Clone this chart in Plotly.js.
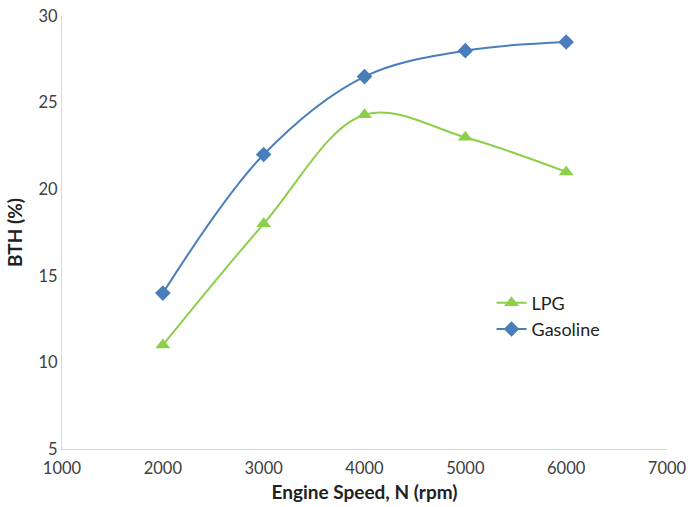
<!DOCTYPE html>
<html>
<head>
<meta charset="utf-8">
<script src="https://cdn.plot.ly/plotly-3.0.1.min.js"></script>
<style>html,body{margin:0;padding:0;background:#fff}#chart{width:688px;height:507px}</style>
</head>
<body>
<div id="chart"></div>
<script>
const speeds = [2000, 3000, 4000, 5000, 6000];
const lpg = [11, 18, 24.3, 23, 21];
const gasoline = [14, 22, 26.5, 28, 28.5];
const xTicks = [1000, 2000, 3000, 4000, 5000, 6000, 7000];
const yTicks = [5, 10, 15, 20, 25, 30];

const traces = [
  {x: speeds, y: lpg, name: 'LPG', type: 'scatter', mode: 'lines+markers',
   line: {color: '#8DCF4A', width: 2, shape: 'spline', smoothing: 1},
   marker: {symbol: 'triangle-up', size: 13, color: '#8DCF4A'}},
  {x: speeds, y: gasoline, name: 'Gasoline', type: 'scatter', mode: 'lines+markers',
   line: {color: '#4A7EBB', width: 2, shape: 'spline', smoothing: 1},
   marker: {symbol: 'diamond', size: 12, color: '#4A7EBB'}}
];

const fam = 'Lato, "Open Sans", sans-serif';
const axisFont = {family: fam, size: 16.5, color: '#404040'};
const layout = {
  width: 688, height: 507,
  margin: {l: 62, r: 21, t: 16, b: 58},
  paper_bgcolor: '#fff', plot_bgcolor: '#fff',
  showlegend: true,
  legend: {x: 0.71, y: 0.38, xanchor: 'left', yanchor: 'top',
           font: {family: fam, size: 18, color: '#222'},
           bgcolor: 'rgba(0,0,0,0)', tracegroupgap: 7, itemwidth: 30},
  xaxis: {range: [1000, 7000], tickvals: xTicks, ticktext: xTicks.map(String),
          showgrid: false, zeroline: false, showline: true, linecolor: '#d9d9d9', linewidth: 1,
          ticks: '', tickfont: axisFont, automargin: false, ticklabelstandoff: 4,
          title: {text: '<b>Engine Speed, N (rpm)</b>', font: {family: fam, size: 19, color: '#222'}, standoff: 8}},
  yaxis: {range: [5, 30], tickvals: yTicks, ticktext: yTicks.map(String),
          showgrid: false, zeroline: false, showline: true, linecolor: '#d9d9d9', linewidth: 1,
          ticks: '', tickfont: axisFont, automargin: false,
          title: {text: '<b>BTH (%)</b>', font: {family: fam, size: 19, color: '#222'}, standoff: 10}}
};
Plotly.newPlot('chart', traces, layout, {displayModeBar: false, staticPlot: true});
</script>
</body>
</html>
